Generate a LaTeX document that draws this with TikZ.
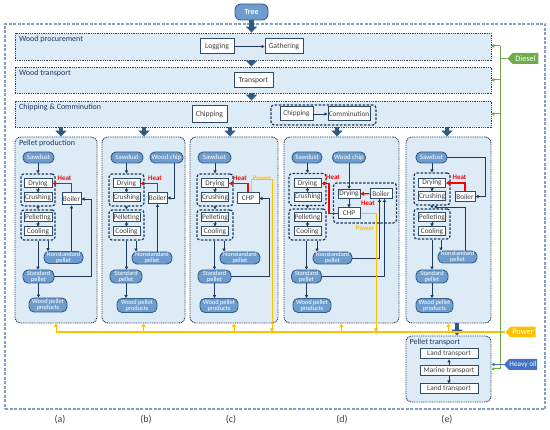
\documentclass[tikz,border=0pt]{standalone}
\usepackage{fontspec}
\setmainfont{Carlito}
\usetikzlibrary{arrows.meta,shapes.symbols,calc}
\definecolor{bandfill}{HTML}{DDEBF7}
\definecolor{dotc}{HTML}{2F3F57}
\definecolor{outerc}{HTML}{7F9FC8}
\definecolor{pillfill}{HTML}{6E9DCD}
\definecolor{pillbd}{HTML}{345F8C}
\definecolor{boxbd}{HTML}{2F4A66}
\definecolor{txt}{HTML}{404040}
\definecolor{grpc}{HTML}{1F3A5A}
\definecolor{bigc}{HTML}{2F5A84}
\definecolor{conc}{HTML}{1F3A5A}
\definecolor{titc}{HTML}{1F3864}
\definecolor{heatc}{HTML}{FF0000}
\definecolor{powc}{HTML}{FFC000}
\definecolor{dieselc}{HTML}{70AD47}
\definecolor{oilc}{HTML}{4472C4}
\tikzset{
 sz/.style 2 args={minimum width=#1, minimum height=#2},
 band/.style={draw=dotc, fill=bandfill, line width=0.9pt, dash pattern=on 1pt off 0.8pt, inner sep=0},
 panel/.style={band, rounded corners=6pt},
 proc/.style={draw=boxbd, fill=white, line width=1pt, text=txt, inner sep=0, font=\fontsize{7.3}{8}\selectfont},
 procbig/.style={proc, font=\fontsize{7.6}{8}\selectfont},
 pill/.style={draw=pillbd, fill=pillfill, line width=0.9pt, rounded corners=5pt, text=white, inner sep=0, font=\fontsize{6.8}{7}\selectfont, align=center},
 pilltwo/.style={pill, font=\fontsize{6.4}{5.9}\selectfont},
 grp/.style={draw=grpc, fill=bandfill, line width=1.2pt, dash pattern=on 2.5pt off 1.5pt, rounded corners=3pt, inner sep=0},
 title/.style={text=titc, font=\fontsize{8}{9}\selectfont, inner sep=0, anchor=north west},
 big/.style={draw=bigc, line width=4.5pt, -{Triangle[width=11pt,length=6pt]}},
 conn/.style={draw=conc, line width=0.8pt, -{Triangle[width=3.2pt,length=3pt]}},
 heat/.style={draw=heatc, line width=1.2pt, -{Triangle[width=4pt,length=3.5pt]}},
 pow/.style={draw=powc, line width=1pt, -{Triangle[width=4pt,length=3.5pt]}},
 powline/.style={draw=powc, line width=1.2pt},
 dsl/.style={draw=dieselc, line width=1pt, -{Triangle[width=3.5pt,length=3pt]}},
 dslline/.style={draw=dieselc, line width=1pt},
 oil/.style={draw=oilc, line width=1pt, -{Triangle[width=3.5pt,length=3pt]}},
 hlab/.style={text=heatc, font=\bfseries\fontsize{7}{8}\selectfont, inner sep=0},
 plab/.style={text=powc, font=\bfseries\fontsize{7}{8}\selectfont, inner sep=0},
 tag/.style={shape=signal, signal to=west, signal from=nowhere, signal pointer angle=95, text=white, inner sep=0.5pt, font=\fontsize{8.3}{9}\selectfont},
 plabel/.style={text=txt, font=\fontsize{10}{11}\selectfont, inner sep=0},
}
\begin{document}
\begin{tikzpicture}[x=1pt,y=-1pt]
\useasboundingbox (0,0) rectangle (550,430);
% outer
\node[draw=outerc, line width=1.2pt, dash pattern=on 3pt off 1.5pt, sz={540}{385}, inner sep=0] (outer) at (275,216.5) {};
% tree
\node[pill, sz={33}{16}, rounded corners=6pt, font=\bfseries\fontsize{7.8}{8}\selectfont] (tree) at (251.5,12) {Tree};
% bands
\node[band, sz={476}{27}] (wp) at (253,46.5) {};
\node[band, sz={476}{26}] (wt) at (253,80) {};
\node[band, sz={476}{26}] (cc) at (253,114) {};
\node[title] (wpt) at (19,35.5) {Wood procurement};
\node[title] (wtt) at (19,69.5) {Wood transport};
\node[title] (cct) at (19,103.5) {Chipping \& Comminution};
\node[procbig, sz={34}{15}] (log) at (217,46.5) {Logging};
\node[procbig, sz={38}{15}] (gat) at (284,46.5) {Gathering};
\node[procbig, sz={39}{15}] (tra) at (253.5,80.5) {Transport};
\node[procbig, sz={35}{17}] (chp1) at (209.5,114.5) {Chipping};
\node[grp, sz={105}{20}] (ccg) at (323.5,115) {};
\node[proc, sz={33}{14}] (chp2) at (296.5,114) {Chipping};
\node[proc, sz={42}{14}] (com) at (349,114) {Comminution};
% panels
\node[panel, sz={82}{186}] (pa) at (56,230) {};
\node[panel, sz={83}{186}] (pb) at (143.5,230) {};
\node[panel, sz={88}{186}] (pc) at (234,230) {};
\node[panel, sz={115}{186}] (pd) at (341.5,230) {};
\node[panel, sz={85}{186}] (pe) at (448.5,230) {};
\node[title] (ppt) at (19,139.5) {Pellet production};
% ---- panel a
\node[grp, sz={34}{32}] (g1A) at (38,190) {};
\node[grp, sz={34}{30}] (g2A) at (38,225) {};
\node[pill, sz={31}{11}] (sawA) at (38.5,157.5) {Sawdust};
\node[proc, sz={28}{9}] (dryA) at (38,183.5) {Drying};
\node[proc, sz={28}{9}] (cruA) at (38,197.5) {Crushing};
\node[proc, sz={28}{9}] (pelA) at (38,217.5) {Pelleting};
\node[proc, sz={28}{9}] (cooA) at (38,231.5) {Cooling};
\node[proc, sz={19}{12}] (boiA) at (71.5,199) {Boiler};
\node[pilltwo, sz={39}{12}] (nonA) at (63.5,257.5) {Nonstandard\\pellet};
\node[pilltwo, sz={31}{13}] (stdA) at (38.5,276.5) {Standard\\pellet};
\node[pilltwo, sz={38}{14}] (wppA) at (48,305) {Wood pellet\\products};
\node[hlab] (hA) at (64.5,178.5) {Heat};
% ---- panel b
\node[grp, sz={35}{32}] (g1B) at (126.5,190) {};
\node[grp, sz={35}{30}] (g2B) at (126.5,225) {};
\node[pill, sz={32}{11}] (sawB) at (127,157.5) {Sawdust};
\node[pill, sz={33}{11}] (chiB) at (166.5,157.5) {Wood chip};
\node[proc, sz={27}{9}] (dryB) at (126.5,183.5) {Drying};
\node[proc, sz={27}{9}] (cruB) at (126.5,197.5) {Crushing};
\node[proc, sz={27}{9}] (pelB) at (126.5,217.5) {Pelleting};
\node[proc, sz={27}{9}] (cooB) at (126.5,231.5) {Cooling};
\node[proc, sz={19}{11}] (boiB) at (157.5,198) {Boiler};
\node[pilltwo, sz={40}{12}] (nonB) at (152,258) {Nonstandard\\pellet};
\node[pilltwo, sz={32}{13}] (stdB) at (126,276.5) {Standard\\pellet};
\node[pilltwo, sz={40}{14}] (wppB) at (137,305.5) {Wood pellet\\products};
\node[hlab] (hB) at (155,178.5) {Heat};
% ---- panel c
\node[grp, sz={36}{32}] (g1C) at (215,190) {};
\node[grp, sz={36}{30}] (g2C) at (215,225) {};
\node[pill, sz={33}{11}] (sawC) at (214.5,157.5) {Sawdust};
\node[proc, sz={27}{9}] (dryC) at (215,183.5) {Drying};
\node[proc, sz={27}{9}] (cruC) at (215,197.5) {Crushing};
\node[proc, sz={27}{9}] (pelC) at (215,217.5) {Pelleting};
\node[proc, sz={27}{9}] (cooC) at (215,231.5) {Cooling};
\node[proc, sz={22}{11}] (chpC) at (248,198.5) {CHP};
\node[pilltwo, sz={40}{12}] (nonC) at (240,258) {Nonstandard\\pellet};
\node[pilltwo, sz={33}{13}] (stdC) at (214.5,276.5) {Standard\\pellet};
\node[pilltwo, sz={38}{14}] (wppC) at (219,305.5) {Wood pellet\\products};
\node[hlab] (hC) at (240,178) {Heat};
\node[plab] (pC) at (262,178) {Power};
% ---- panel d
\node[grp, sz={37}{32}] (g1D) at (307.5,189.5) {};
\node[grp, sz={37}{31}] (g2D) at (307.5,224.5) {};
\node[grp, sz={63}{40}] (g3D) at (365,203) {};
\node[pill, sz={30}{11}] (sawD) at (307,157.5) {Sawdust};
\node[pill, sz={33}{11}] (chiD) at (349,157.5) {Wood chip};
\node[proc, sz={27}{9}] (dr1D) at (307.5,183.5) {Drying};
\node[proc, sz={27}{9}] (cruD) at (307.5,197) {Crushing};
\node[proc, sz={27}{9}] (pelD) at (307.5,217.5) {Pelleting};
\node[proc, sz={27}{9}] (cooD) at (307.5,231.5) {Cooling};
\node[proc, sz={22}{9}] (dr2D) at (349,194) {Drying};
\node[proc, sz={22}{10}] (boiD) at (381,193.5) {Boiler};
\node[proc, sz={22}{11}] (chpD) at (349,213.5) {CHP};
\node[pilltwo, sz={39}{12}] (nonD) at (332.5,258) {Nonstandard\\pellet};
\node[pilltwo, sz={30}{13}] (stdD) at (306.5,276.5) {Standard\\pellet};
\node[pilltwo, sz={38}{14}] (wppD) at (312,305.5) {Wood pellet\\products};
\node[hlab] (hD1) at (333,177.5) {Heat};
\node[hlab] (hD2) at (368,203.5) {Heat};
\node[plab] (pD) at (365,228) {Power};
% ---- panel e
\node[grp, sz={36}{32}] (g1E) at (432,189) {};
\node[grp, sz={36}{30}] (g2E) at (432,224) {};
\node[pill, sz={31}{11}] (sawE) at (431.5,157.5) {Sawdust};
\node[proc, sz={27}{9}] (dryE) at (432,183) {Drying};
\node[proc, sz={27}{9}] (cruE) at (432,196.5) {Crushing};
\node[proc, sz={27}{9}] (pelE) at (432,217.5) {Pelleting};
\node[proc, sz={27}{9}] (cooE) at (432,231.5) {Cooling};
\node[proc, sz={20}{10}] (boiE) at (465,196.5) {Boiler};
\node[pilltwo, sz={39}{12}] (nonE) at (457.5,257) {Nonstandard\\pellet};
\node[pilltwo, sz={32}{13}] (stdE) at (432,276.5) {Standard\\pellet};
\node[pilltwo, sz={37}{14}] (wppE) at (434.5,305.5) {Wood pellet\\products};
\node[hlab] (hE) at (459.5,177.5) {Heat};
% ---- pellet transport
\node[panel, sz={85}{66}] (pt) at (448.5,369) {};
\node[title] (ptt) at (409.5,338.5) {Pellet transport};
\node[proc, sz={58}{10}] (la1) at (449,354) {Land transport};
\node[proc, sz={58}{10}] (mar) at (449,371) {Marine transport};
\node[proc, sz={58}{10}] (la2) at (449,389) {Land transport};
% ---- tags
\node[tag, fill=dieselc, sz={31}{11}] (dsl) at (525.5,58.5) {Diesel};
\node[tag, fill=powc, sz={30}{10.5}] (pwr) at (523,332) {Power};
\node[tag, fill=oilc, sz={31}{11}, font=\fontsize{7.3}{8}\selectfont] (hoil) at (523,364.5) {Heavy oil};
% ---- labels
\node[plabel] (la) at (60,420) {(a)};
\node[plabel] (lb) at (146,420) {(b)};
\node[plabel] (lc) at (231,420) {(c)};
\node[plabel] (ld) at (342,420) {(d)};
\node[plabel] (le) at (447,420) {(e)};
% ===== connectors
\draw[big] (tree.south) -- (tree.south |- wp.north);
\draw[big] (tree.south |- wp.south) -- (tree.south |- wt.north);
\draw[big] (tree.south |- wt.south) -- (tree.south |- cc.north);
\coordinate (ba) at ([xshift=5pt]pa.north);
\coordinate (bb) at ([xshift=0.5pt]pb.north);
\coordinate (bc) at ([xshift=-4pt]pc.north);
\coordinate (bd) at ([xshift=-4.5pt]pd.north);
\coordinate (be) at ([xshift=-1.5pt]pe.north);
\foreach \b in {ba,bb,bc,bd,be}{\draw[big] (\b |- cc.south) -- (\b);}
\coordinate (bt) at ([xshift=8.5pt]pe.south);
\draw[big] (bt) -- (bt |- pt.north);
\draw[conn] (log) -- (gat);
\draw[conn] (chp2) -- (com);
% panel a
\draw[conn] (sawA.south -| g1A.north) -- (g1A.north);
\draw[conn] (dryA) -- (cruA);
\draw[conn] (g1A) -- (g2A);
\draw[conn] (pelA) -- (cooA);
\draw[conn] (g2A.south) -- (g2A.south |- stdA.north);
\coordinate (nA) at ([xshift=10pt]g2A.south);
\draw[conn] (nA) -- (nA |- nonA.north);
\draw[conn] (nonA.north -| boiA.south) -- (boiA.south);
\draw[conn] (stdA.east) -| ([xshift=10pt]boiA.east) -- (boiA.east);
\draw[conn] (stdA.south) -- (stdA.south |- wppA.north);
\draw[heat] (boiA.north) |- (dryA.east);
% panel b
\draw[conn] (sawB.south -| g1B.north) -- (g1B.north);
\draw[conn] (dryB) -- (cruB);
\draw[conn] (g1B) -- (g2B);
\draw[conn] (pelB) -- (cooB);
\draw[conn] (g2B.south) -- (g2B.south |- stdB.north);
\coordinate (nB) at ([xshift=9.5pt]g2B.south);
\draw[conn] (nB) -- (nB |- nonB.north);
\draw[conn] (nonB.north -| boiB.south) -- (boiB.south);
\coordinate (cB) at ([xshift=7.5pt]chiB.south);
\draw[conn] (cB) |- (boiB.east);
\draw[conn] (stdB.south) -- (stdB.south |- wppB.north);
\draw[heat] (boiB.north) |- (dryB.east);
% panel c
\draw[conn] (sawC.south -| g1C.north) -- (g1C.north);
\draw[conn] (dryC) -- (cruC);
\draw[conn] (g1C) -- (g2C);
\draw[conn] (pelC) -- (cooC);
\draw[conn] (g2C.south -| stdC.north) -- (stdC.north);
\coordinate (nC) at ([xshift=9pt]g2C.south);
\draw[conn] (nC) -- (nC |- nonC.north);
\draw[conn] (stdC.east) -| ([xshift=10pt]chpC.east) -- (chpC.east);
\draw[conn] (stdC.south) -- (stdC.south |- wppC.north);
\draw[heat] (chpC.north) |- (dryC.east);
\coordinate (pc1) at ([xshift=3.5pt]chpC.north);
\coordinate (pcR) at (272,180);
\draw[pow] (pc1) |- (pcR) -- (pcR |- pwr.west);
% panel d
\draw[conn] (sawD.south -| g1D.north) -- (g1D.north);
\draw[conn] (dr1D) -- (cruD);
\draw[conn] (g1D) -- (g2D);
\draw[conn] (pelD) -- (cooD);
\draw[conn] (g2D.south -| stdD.north) -- (stdD.north);
\coordinate (nD) at ([xshift=9.5pt]g2D.south);
\draw[conn] (nD) -- (nD |- nonD.north);
\draw[conn] (chiD.south) -- (chiD.south |- dr2D.north);
\draw[conn] (dr2D) -- (chpD);
\draw[heat] (boiD) -- (dr2D);
\draw[conn] (nonD.east) -| ([xshift=-1.5pt]boiD.south);
\draw[conn] (stdD.east) -| ([xshift=3.5pt]boiD.south);
\draw[conn] (stdD.south) -- (stdD.south |- wppD.north);
\coordinate (hdx) at (329,200);
\draw[heat] (chpD.west) -| (hdx) |- (dr1D.east);
\coordinate (pdx) at (376,240);
\draw[pow] (chpD.east) -| (pdx |- pwr.west);
% panel e
\draw[conn] (sawE.south -| g1E.north) -- (g1E.north);
\draw[conn] (dryE) -- (cruE);
\draw[conn] (g1E) -- (g2E);
\draw[conn] (pelE) -- (cooE);
\draw[conn] (g2E.south -| stdE.north) -- (stdE.north);
\coordinate (nE) at ([xshift=9pt]g2E.south);
\draw[conn] (nE) -- (nE |- nonE.north);
\draw[conn] (sawE.east) -| ([xshift=10pt]boiE.east) -- (boiE.east);
\coordinate (eJ) at ($(g1E.south)!0.5!(g2E.north)$);
\draw[conn] (nonE.north -| boiE.south) |- ([xshift=2pt]eJ);
\draw[conn] (stdE.south) -- (stdE.south |- wppE.north);
\draw[heat] (boiE.north) |- (dryE.east);
% pellet transport
\draw[conn] (mar) -- (la1);
\draw[conn] (mar) -- (la2);
% power bus
\draw[powline] (pa.south |- pwr.west) -- (pwr.west);
\foreach \p in {pa,pb,pc,pd,pe}{\draw[pow] (\p.south |- pwr.west) -- (\p.south);}
% diesel
\coordinate (dv) at (500,46);
\draw[dslline] (dsl.west) -- (dsl.west -| dv);
\draw[dsl] (dv) -- (dv -| wp.east);
\draw[dsl] (dv |- wt.east) -- (wt.east);
\draw[dsl] (dv |- cc.east) -- (cc.east);
\draw[dsl] (dv) |- (pt.east);
\draw[oil] (hoil.west) -- (hoil.west -| pt.east);
\end{tikzpicture}
\end{document}
